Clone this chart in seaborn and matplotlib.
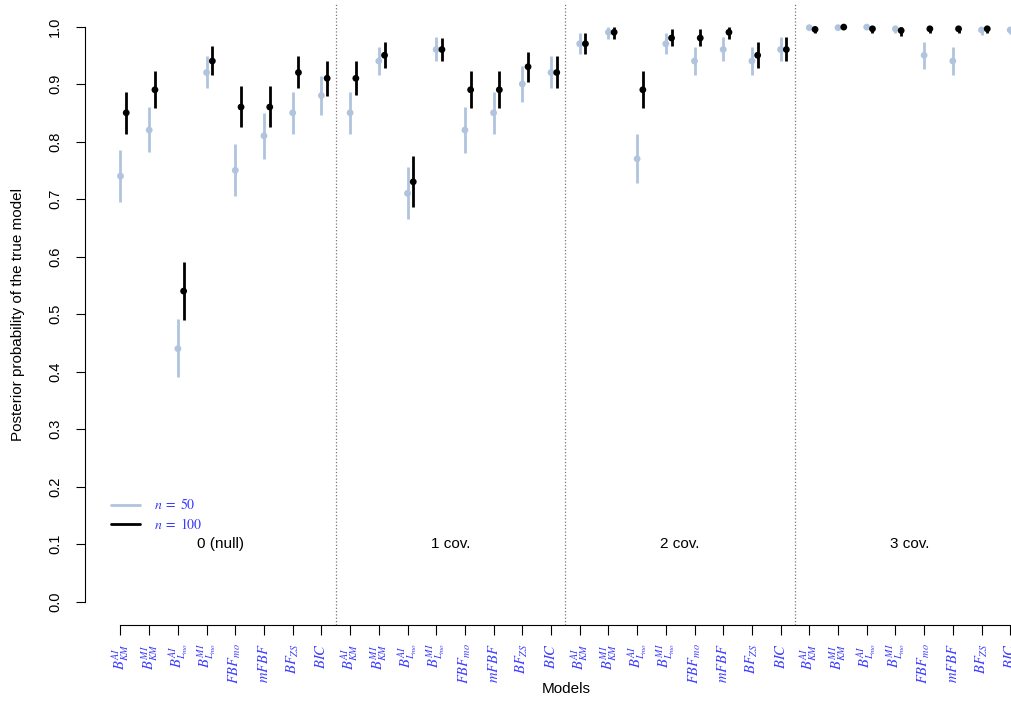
import matplotlib
matplotlib.use("Agg")
import matplotlib.pyplot as plt
from matplotlib.lines import Line2D
import numpy as np
import pandas as pd
import seaborn as sns

sns.set_style("ticks")
plt.rcParams["font.family"] = ["Liberation Sans", "DejaVu Sans"]
plt.rcParams["mathtext.fontset"] = "stix"
for k in ["text.color", "axes.labelcolor", "xtick.color", "ytick.color", "axes.edgecolor"]:
    plt.rcParams[k] = "black"

# ── Dados ───────────────────────────────────────────────────
methods = [r"$B^{AI}_{KM}$", r"$B^{MI}_{KM}$", r"$B^{AI}_{L_{mo}}$", r"$B^{MI}_{L_{mo}}$",
           r"$FBF_{mo}$", r"$mFBF$", r"$BF_{ZS}$", r"$BIC$"]
scenarios = ["0 (null)", "1 cov.", "2 cov.", "3 cov."]
sample_sizes = [50, 100]

est_50 = [0.74, 0.82, 0.44, 0.92, 0.75, 0.81, 0.85, 0.88,
          0.85, 0.94, 0.71, 0.96, 0.82, 0.85, 0.90, 0.92,
          0.97, 0.99, 0.77, 0.97, 0.94, 0.96, 0.94, 0.96,
          0.998, 0.998, 0.999, 0.996, 0.95, 0.94, 0.994, 0.994]
lo_50 = [0.695, 0.781, 0.390, 0.893, 0.706, 0.770, 0.814, 0.847,
         0.814, 0.916, 0.665, 0.940, 0.780, 0.814, 0.869, 0.893,
         0.953, 0.979, 0.728, 0.953, 0.916, 0.940, 0.916, 0.940,
         0.997, 0.997, 0.998, 0.989, 0.927, 0.916, 0.985, 0.987]
hi_50 = [0.785, 0.860, 0.491, 0.949, 0.795, 0.850, 0.887, 0.914,
         0.887, 0.965, 0.756, 0.981, 0.860, 0.887, 0.931, 0.949,
         0.988, 1.000, 0.813, 0.988, 0.965, 0.981, 0.965, 0.981,
         0.999, 0.999, 1.000, 1.000, 0.973, 0.965, 1.000, 1.000]

est_100 = [0.85, 0.89, 0.54, 0.94, 0.86, 0.86, 0.92, 0.91,
           0.91, 0.95, 0.73, 0.96, 0.89, 0.89, 0.93, 0.92,
           0.97, 0.99, 0.89, 0.98, 0.98, 0.99, 0.95, 0.96,
           0.995, 0.999, 0.996, 0.993, 0.996, 0.996, 0.996, 0.996]
lo_100 = [0.814, 0.858, 0.490, 0.915, 0.825, 0.825, 0.893, 0.880,
          0.881, 0.928, 0.686, 0.940, 0.858, 0.858, 0.904, 0.893,
          0.952, 0.979, 0.858, 0.966, 0.966, 0.979, 0.928, 0.940,
          0.988, 0.998, 0.988, 0.983, 0.988, 0.988, 0.988, 0.988]
hi_100 = [0.887, 0.923, 0.591, 0.966, 0.896, 0.896, 0.949, 0.940,
          0.940, 0.973, 0.775, 0.980, 0.923, 0.923, 0.956, 0.948,
          0.988, 1.000, 0.923, 0.995, 0.995, 1.000, 0.973, 0.981,
          0.999, 1.000, 0.999, 1.000, 0.999, 0.999, 0.999, 0.999]

CORES = {50: "#B0C4DE", 100: "black"}
OFFSET = {50: 0.0, 100: 0.2}
AZUL = "#3c3cff"

# tabela longa
linhas = []
for n, est, lo, hi in [(50, est_50, lo_50, hi_50), (100, est_100, lo_100, hi_100)]:
    for i in range(len(est)):
        linhas.append({"idx": i + 1, "n": n,
                       "scenario": scenarios[i // len(methods)],
                       "method": methods[i % len(methods)],
                       "est": est[i], "lo": lo[i], "hi": hi[i]})
df = pd.DataFrame(linhas)
df["x"] = df["idx"] + df["n"].map(OFFSET)
n_pos = df["idx"].max()

# ── Figura ──────────────────────────────────────────────────
fig = plt.figure(figsize=(10.12, 7.01), dpi=100)
ax = fig.add_axes([0.0839, 0.1088, 0.9495, 0.8862])

for n in sample_sizes:
    d = df[df["n"] == n]
    ax.vlines(d["x"], d["lo"], d["hi"], color=CORES[n], lw=2.0, zorder=2)
    sns.scatterplot(data=d, x="x", y="est", color=CORES[n], s=24,
                    edgecolor="none", ax=ax, zorder=3, legend=False)

# separadores entre cenários
for k in range(1, len(scenarios)):
    ax.axvline(k * len(methods) + 0.5, color="#777777", ls=":", lw=0.9, zorder=1)

# rótulos dos cenários
centros = df.groupby("scenario", sort=False)["idx"].mean()
for sc, cx in centros.items():
    ax.text(cx, 0.1, sc, ha="center", va="center", fontsize=11)

ax.set_xlim(1 - 0.04 * (n_pos - 1), n_pos + 0.04 * (n_pos - 1))
ax.set_ylim(-0.04, 1.04)

ax.set_xticks(range(1, n_pos + 1))
ax.set_xticklabels(methods * len(scenarios), rotation=90, color=AZUL, fontsize=10.5)
yt = np.round(np.arange(0, 1.01, 0.1), 1)
ax.set_yticks(yt)
ax.set_yticklabels([f"{v:.1f}" for v in yt], fontsize=10.5)
plt.setp(ax.get_yticklabels(), rotation=90, va="center")

ax.tick_params(axis="x", length=7.2, pad=6, width=0.8)
ax.tick_params(axis="y", length=6.5, pad=10, width=0.8)

sns.despine(ax=ax)
ax.spines["left"].set_bounds(0, 1)
ax.spines["bottom"].set_bounds(1, n_pos)
ax.spines["left"].set_linewidth(0.8)
ax.spines["bottom"].set_linewidth(0.8)

ax.set_xlabel("Models", fontsize=11)
ax.set_ylabel("Posterior probability of the true model", fontsize=11)
ax.xaxis.set_label_coords(0.5007, -0.092)
ax.yaxis.set_label_coords(-0.062, 0.5)

handles = [Line2D([0], [0], color=CORES[n], lw=2) for n in sample_sizes]
leg = ax.legend(handles, [rf"$n\;=\;{n}$" for n in sample_sizes],
                loc="center left", bbox_to_anchor=(111 / 1012, (701 - 514.9) / 701),
                bbox_transform=fig.transFigure, frameon=False, fontsize=10,
                borderpad=0, borderaxespad=0, handlelength=2.1, handletextpad=1.0,
                labelspacing=0.35, labelcolor=AZUL)

plt.savefig("out.png", dpi=100)
plt.close()
